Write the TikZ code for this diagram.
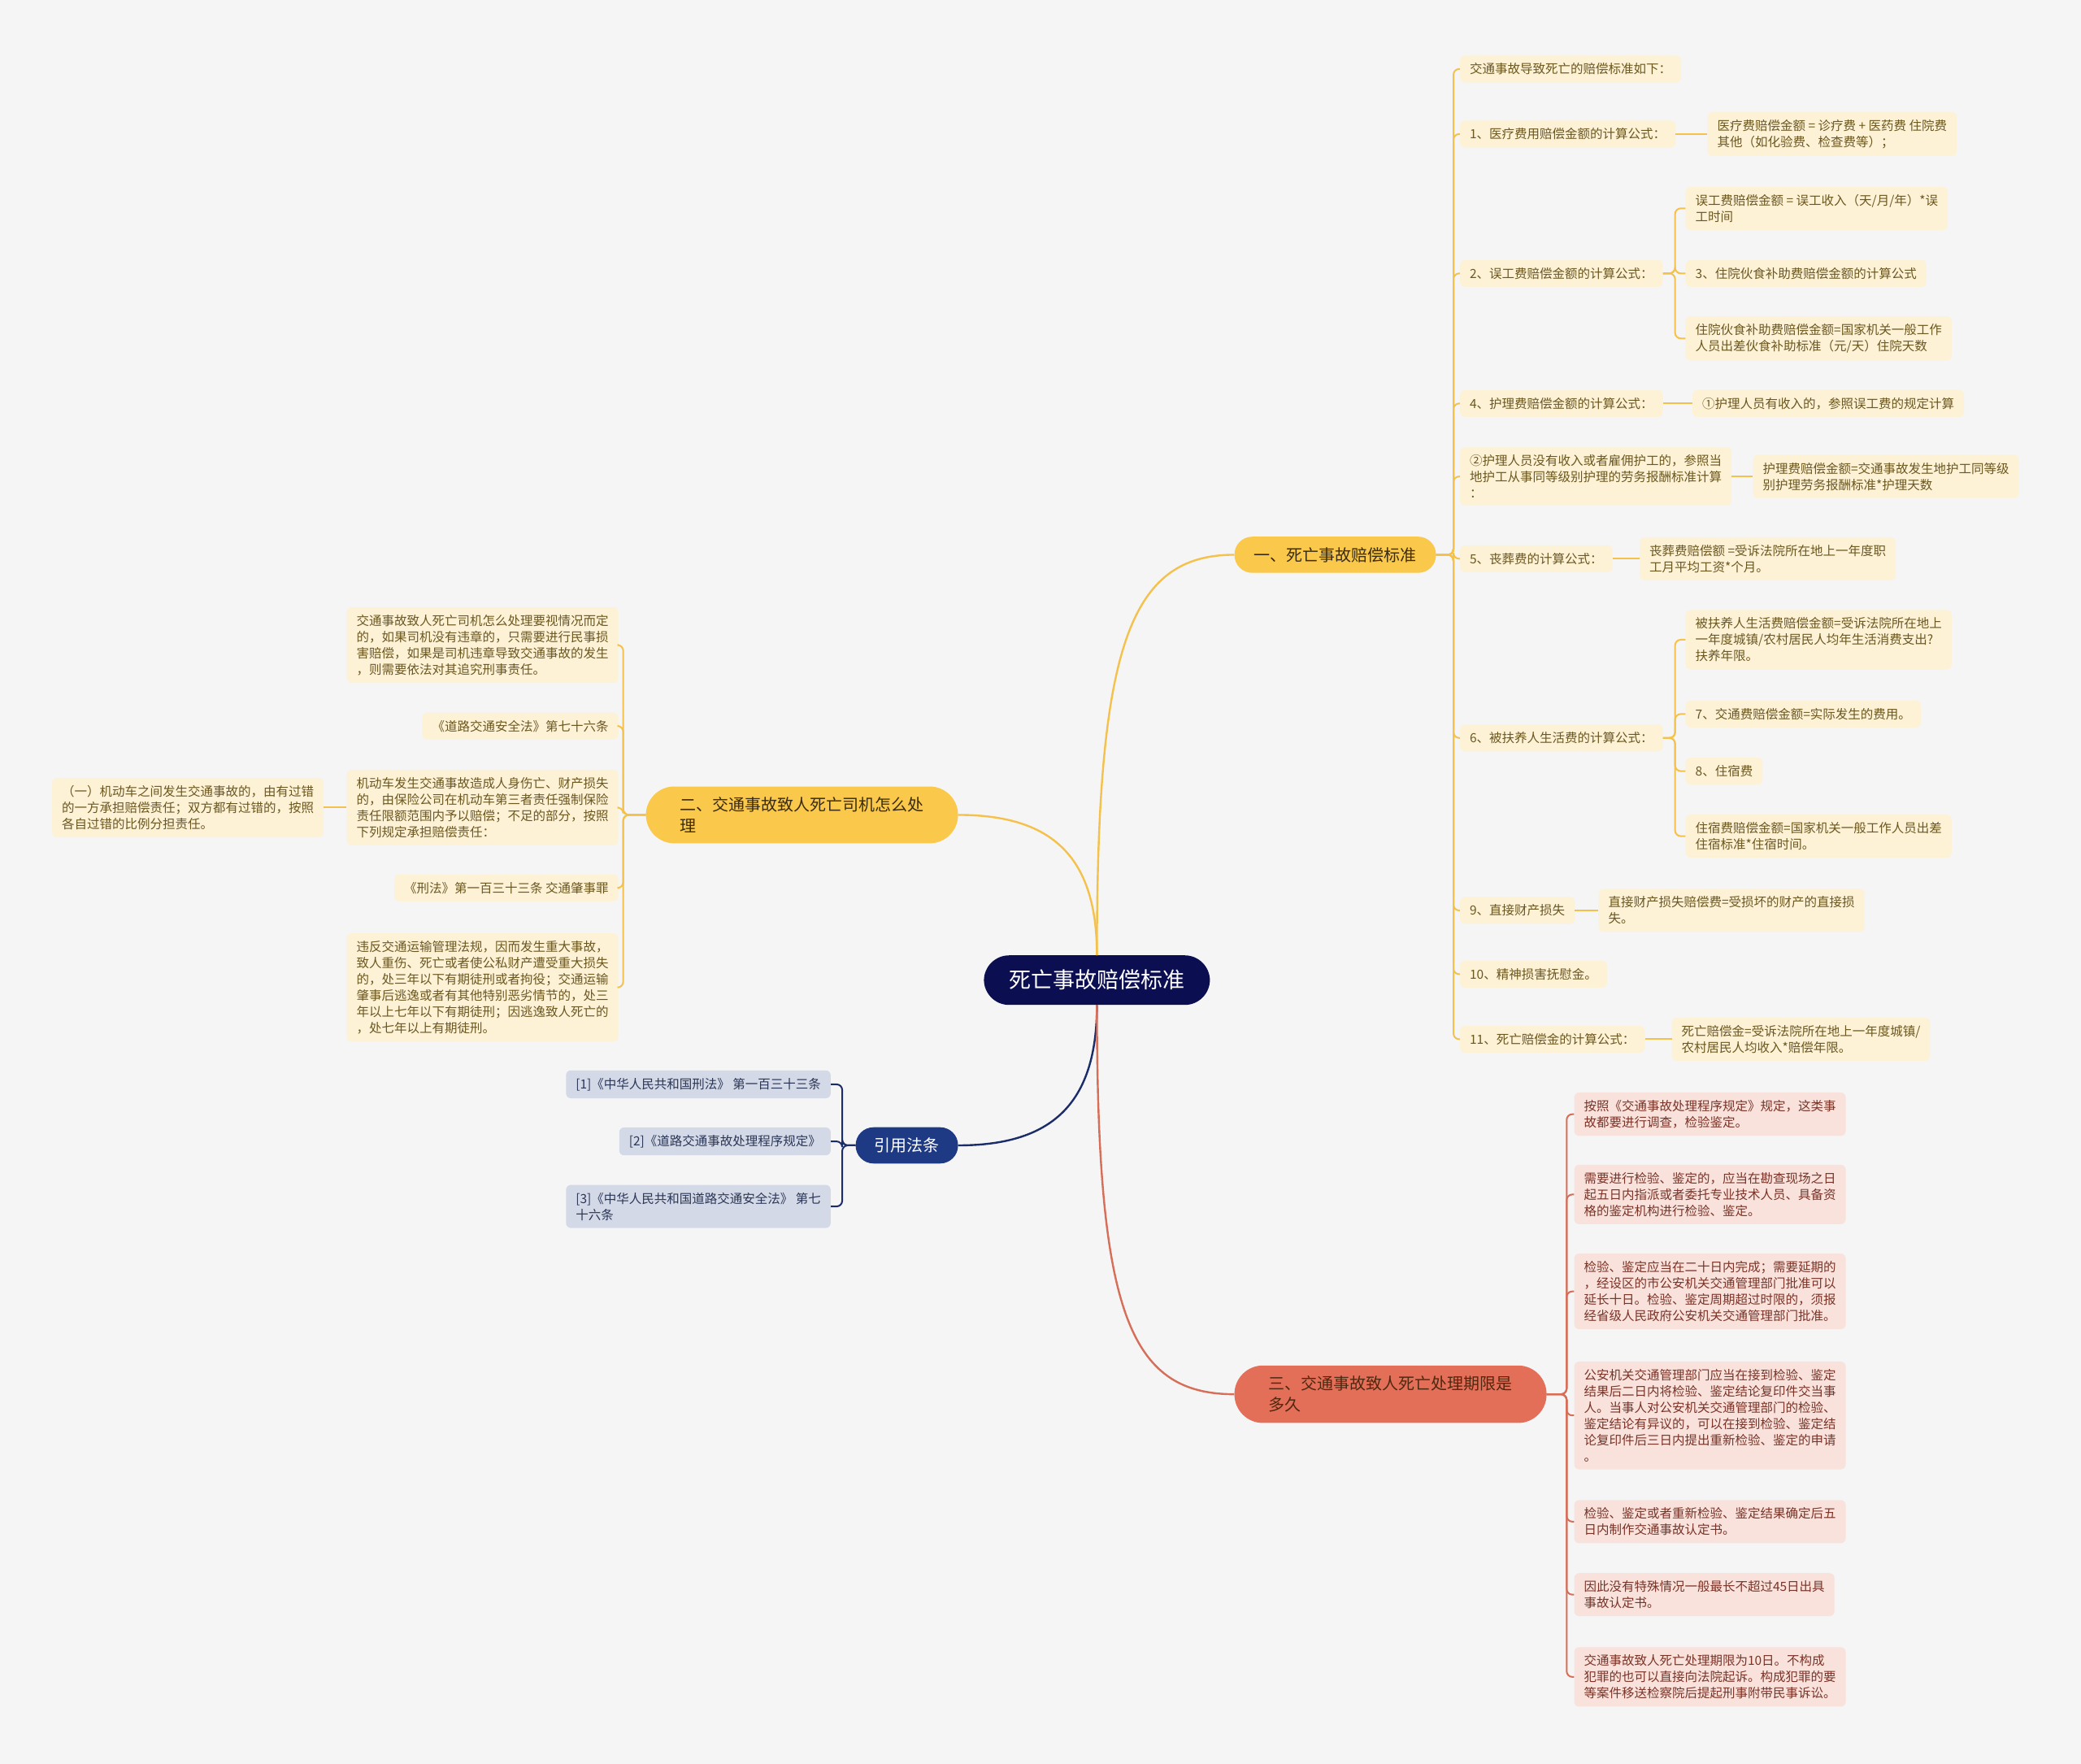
\documentclass[tikz,border=0pt]{standalone}
\usepackage{fontspec}
\usepackage{xcolor}
\usepackage{tikz}
\usetikzlibrary{positioning,calc}
\newfontfamily\cjkfont{Noto Sans CJK SC}
\definecolor{bgpaper}{HTML}{F5F5F5}
\definecolor{rootnavy}{HTML}{0B0F52}
\definecolor{mainyellow}{HTML}{FAC84A}
\definecolor{mainred}{HTML}{E46F59}
\definecolor{mainblue}{HTML}{1F3A85}
\definecolor{leafyellow}{HTML}{FDF2D6}
\definecolor{leafred}{HTML}{F9E2DC}
\definecolor{leafblue}{HTML}{D4D9E7}
\definecolor{textyellow}{HTML}{6B5720}
\definecolor{textred}{HTML}{7A3327}
\definecolor{textblue}{HTML}{2A3656}
\definecolor{textdark}{HTML}{3A2C12}
\definecolor{lineyellow}{HTML}{F4C24C}
\definecolor{linered}{HTML}{D66E58}
\definecolor{lineblue}{HTML}{1B2C6B}
\tikzset{
  root/.style={rectangle,rounded corners=31pt,fill=rootnavy,text=white,inner xsep=31pt,inner ysep=18pt,font=\cjkfont\fontsize{27pt}{32pt}\selectfont},
  ybranch/.style={rectangle,rounded corners=22pt,fill=mainyellow,text=textdark,inner xsep=24pt,inner ysep=13pt,align=left,font=\cjkfont\fontsize{20pt}{26pt}\selectfont},
  rbranch/.style={ybranch,fill=mainred,text=textdark!90!red},
  bbranch/.style={ybranch,fill=mainblue,text=white,inner xsep=23pt},
  twoline/.style={rounded corners=35pt,inner xsep=42pt},
  yleaf/.style={rectangle,rounded corners=6pt,fill=leafyellow,text=textyellow,inner xsep=12pt,inner ysep=9.25pt,align=left,font=\cjkfont\fontsize{15.5pt}{20pt}\selectfont},
  rleaf/.style={yleaf,fill=leafred,text=textred},
  bleaf/.style={yleaf,fill=leafblue,text=textblue},
  ylink/.style={draw=lineyellow,line width=2pt,rounded corners=7pt},
  rlink/.style={ylink,draw=linered},
  blink/.style={ylink,draw=lineblue},
  ymain/.style={draw=lineyellow,line width=2.4pt},
  rmain/.style={ymain,draw=linered},
  bmain/.style={ymain,draw=lineblue}
}

\begin{document}
\begin{tikzpicture}[x=1.6327pt,y=-1.6327pt]
  \fill[bgpaper] (0,0) rectangle (1568,1329);
  \useasboundingbox (0,0) rectangle (1568,1329);

  % centre and main branches
  \node[root] (root) at (826.5,738.5) {死亡事故赔偿标准};
  \node[ybranch, anchor=west] (b1) at (930,418) {一、死亡事故赔偿标准};
  \node[ybranch, twoline, anchor=east] (b2) at (722,614) {二、交通事故致人死亡司机怎么处\\理};
  \node[bbranch, anchor=east] (cite) at (722,863) {引用法条};
  \node[rbranch, twoline, anchor=west] (b3) at (930,1050.5) {三、交通事故致人死亡处理期限是\\多久};

  % branch one
  \node[yleaf, anchor=west] (r1) at (1100,52) {交通事故导致死亡的赔偿标准如下：};
  \node[yleaf, anchor=west] (r2) at (1100,101) {1、医疗费用赔偿金额的计算公式：};
  \node[yleaf, right=39pt of r2] (r2a) {医疗费赔偿金额 = 诊疗费 + 医药费 住院费\\其他（如化验费、检查费等）；};
  \node[yleaf, anchor=west] (r3) at (1100,206) {2、误工费赔偿金额的计算公式：};
  \node[yleaf, anchor=west] (r3a) at (1270,157) {误工费赔偿金额 = 误工收入（天/月/年）*误\\工时间};
  \node[yleaf, anchor=west] (r3b) at (1270,206) {3、住院伙食补助费赔偿金额的计算公式};
  \node[yleaf, anchor=west] (r3c) at (1270,255) {住院伙食补助费赔偿金额=国家机关一般工作\\人员出差伙食补助标准（元/天）住院天数};
  \node[yleaf, anchor=west] (r4) at (1100,304) {4、护理费赔偿金额的计算公式：};
  \node[yleaf, right=36pt of r4] (r4a) {①护理人员有收入的，参照误工费的规定计算};
  \node[yleaf, anchor=west] (r5) at (1100,359) {②护理人员没有收入或者雇佣护工的，参照当\\地护工从事同等级别护理的劳务报酬标准计算\\：};
  \node[yleaf, right=26pt of r5] (r5a) {护理费赔偿金额=交通事故发生地护工同等级\\别护理劳务报酬标准*护理天数};
  \node[yleaf, anchor=west] (r6) at (1100,421) {5、丧葬费的计算公式：};
  \node[yleaf, right=33pt of r6] (r6a) {丧葬费赔偿额 =受诉法院所在地上一年度职\\工月平均工资*个月。};
  \node[yleaf, anchor=west] (r7) at (1100,556) {6、被扶养人生活费的计算公式：};
  \node[yleaf, anchor=west] (r7a) at (1270,482) {被扶养人生活费赔偿金额=受诉法院所在地上\\一年度城镇/农村居民人均年生活消费支出?\\扶养年限。};
  \node[yleaf, anchor=west] (r7b) at (1270,538) {7、交通费赔偿金额=实际发生的费用。};
  \node[yleaf, anchor=west] (r7c) at (1270,581) {8、住宿费};
  \node[yleaf, anchor=west] (r7d) at (1270,630) {住宿费赔偿金额=国家机关一般工作人员出差\\住宿标准*住宿时间。};
  \node[yleaf, anchor=west] (r8) at (1100,686) {9、直接财产损失};
  \node[yleaf, right=29pt of r8] (r8a) {直接财产损失赔偿费=受损坏的财产的直接损\\失。};
  \node[yleaf, anchor=west] (r9) at (1100,734) {10、精神损害抚慰金。};
  \node[yleaf, anchor=west] (r10) at (1100,783) {11、死亡赔偿金的计算公式：};
  \node[yleaf, right=33pt of r10] (r10a) {死亡赔偿金=受诉法院所在地上一年度城镇/\\农村居民人均收入*赔偿年限。};

  % branch two
  \node[yleaf, anchor=east] (l1) at (466,486) {交通事故致人死亡司机怎么处理要视情况而定\\的，如果司机没有违章的，只需要进行民事损\\害赔偿，如果是司机违章导致交通事故的发生\\，则需要依法对其追究刑事责任。};
  \node[yleaf, anchor=east] (l2) at (466,547) {《道路交通安全法》第七十六条};
  \node[yleaf, anchor=east] (l3) at (466,608.5) {机动车发生交通事故造成人身伤亡、财产损失\\的，由保险公司在机动车第三者责任强制保险\\责任限额范围内予以赔偿；不足的部分，按照\\下列规定承担赔偿责任：};
  \node[yleaf, left=28pt of l3] (l3a) {（一）机动车之间发生交通事故的，由有过错\\的一方承担赔偿责任；双方都有过错的，按照\\各自过错的比例分担责任。};
  \node[yleaf, anchor=east] (l4) at (466,669) {《刑法》第一百三十三条 交通肇事罪};
  \node[yleaf, anchor=east] (l5) at (466,744) {违反交通运输管理法规，因而发生重大事故，\\致人重伤、死亡或者使公私财产遭受重大损失\\的，处三年以下有期徒刑或者拘役；交通运输\\肇事后逃逸或者有其他特别恶劣情节的，处三\\年以上七年以下有期徒刑；因逃逸致人死亡的\\，处七年以上有期徒刑。};

  % cited laws
  \node[bleaf, anchor=east] (c1) at (626,817) {[1]《中华人民共和国刑法》 第一百三十三条};
  \node[bleaf, anchor=east] (c2) at (626,860) {[2]《道路交通事故处理程序规定》};
  \node[bleaf, anchor=east] (c3) at (626,909) {[3]《中华人民共和国道路交通安全法》 第七\\十六条};

  % branch three
  \node[rleaf, anchor=west] (t1) at (1186,839.5) {按照《交通事故处理程序规定》规定，这类事\\故都要进行调查，检验鉴定。};
  \node[rleaf, anchor=west] (t2) at (1186,900) {需要进行检验、鉴定的，应当在勘查现场之日\\起五日内指派或者委托专业技术人员、具备资\\格的鉴定机构进行检验、鉴定。};
  \node[rleaf, anchor=west] (t3) at (1186,973) {检验、鉴定应当在二十日内完成；需要延期的\\，经设区的市公安机关交通管理部门批准可以\\延长十日。检验、鉴定周期超过时限的，须报\\经省级人民政府公安机关交通管理部门批准。};
  \node[rleaf, anchor=west] (t4) at (1186,1066.5) {公安机关交通管理部门应当在接到检验、鉴定\\结果后二日内将检验、鉴定结论复印件交当事\\人。当事人对公安机关交通管理部门的检验、\\鉴定结论有异议的，可以在接到检验、鉴定结\\论复印件后三日内提出重新检验、鉴定的申请\\。};
  \node[rleaf, anchor=west] (t5) at (1186,1146.5) {检验、鉴定或者重新检验、鉴定结果确定后五\\日内制作交通事故认定书。};
  \node[rleaf, anchor=west] (t6) at (1186,1201.5) {因此没有特殊情况一般最长不超过45日出具\\事故认定书。};
  \node[rleaf, anchor=west] (t7) at (1186,1263.5) {交通事故致人死亡处理期限为10日。不构成\\犯罪的也可以直接向法院起诉。构成犯罪的要\\等案件移送检察院后提起刑事附带民事诉讼。};

  % main curves
  \draw[ymain] (root.north) .. controls +(0,-230) and +(-80,0) .. (b1.west);
  \draw[ymain] (root.north) .. controls +(0,-75) and +(70,0) .. (b2.east);
  \draw[bmain] (root.south) .. controls +(0,75) and +(70,0) .. (cite.east);
  \draw[rmain] (root.south) .. controls +(0,230) and +(-80,0) .. (b3.west);

  % brackets
  \foreach \k in {r1,r2,r3,r4,r5,r6,r7,r8,r9,r10}
    \draw[ylink] (b1.east) -- ++(13,0) |- (\k.west);
  \foreach \k in {r3a,r3b,r3c}
    \draw[ylink] (r3.east) -- ++(9,0) |- (\k.west);
  \foreach \k in {r7a,r7b,r7c,r7d}
    \draw[ylink] (r7.east) -- ++(9,0) |- (\k.west);
  \foreach \k in {l1,l2,l3,l4,l5}
    \draw[ylink] (b2.west) -- ++(-17,0) |- (\k.east);
  \foreach \k in {c1,c2,c3}
    \draw[blink] (cite.west) -- ++(-10,0) |- (\k.east);
  \foreach \k in {t1,t2,t3,t4,t5,t6,t7}
    \draw[rlink] (b3.east) -- ++(15,0) |- (\k.west);

  % single children
  \draw[ylink] (r2) -- (r2a);
  \draw[ylink] (r4) -- (r4a);
  \draw[ylink] (r5) -- (r5a);
  \draw[ylink] (r6) -- (r6a);
  \draw[ylink] (r8) -- (r8a);
  \draw[ylink] (r10) -- (r10a);
  \draw[ylink] (l3) -- (l3a);
\end{tikzpicture}
\end{document}
